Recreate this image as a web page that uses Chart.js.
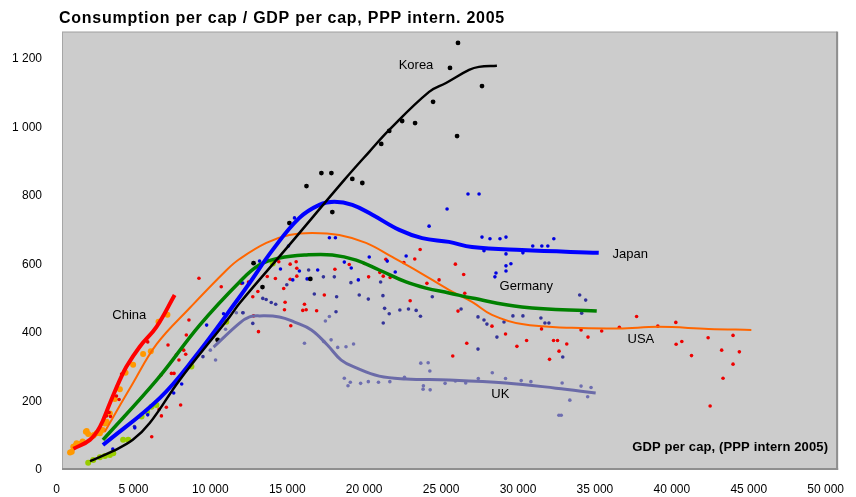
<!DOCTYPE html>
<html>
<head>
<meta charset="utf-8">
<script src="https://cdn.jsdelivr.net/npm/chart.js@4"></script>
<style>
  body { margin: 0; background: #fff; }
  canvas { display: block; }
</style>
</head>
<body>
<canvas id="chart" width="856" height="497"></canvas>
<script>
// axis ticks
const xTicks = [0, 5000, 10000, 15000, 20000, 25000, 30000, 35000, 40000, 45000, 50000];
const yTicks = [0, 200, 400, 600, 800, 1000, 1200];

// smoothed trend lines  [gdp per cap, consumption per cap]
const koreaLine = [[2180,26],[3660,55],[4960,88],[6060,137],[8010,263],[11250,447],[11900,487],[15000,650],[18710,847],[20330,929],[21630,993],[24220,1104],[25320,1130],[26820,1168],[27460,1177],[28630,1180]];
const japanLine = [[3020,73],[6710,210],[9000,330],[11900,505],[12550,546],[14040,642],[15790,736],[17090,774],[18060,783],[19230,774],[20530,745],[22280,701],[23770,677],[25510,666],[27010,651],[30250,642],[35250,634]];
const germanyLine = [[3020,88],[6520,263],[9310,423],[11900,549],[13200,599],[14490,619],[16240,628],[17930,628],[19480,613],[20980,584],[22720,549],[24020,531],[25510,517],[27010,502],[30250,476],[35120,464]];
const usaLine = [[3140,112],[4900,248],[6520,368],[8660,473],[11060,584],[11900,616],[13640,663],[15130,686],[16630,692],[18380,686],[20120,663],[21820,622],[23570,578],[25510,526],[27010,491],[28310,453],[30250,426],[33490,415],[36540,413],[39150,418],[42390,412],[45170,409]];
const chinaLine = [[1100,62],[2170,88],[2820,126],[3470,195],[4120,263],[4550,302],[5410,360],[6500,418],[7680,511]];
const ukLine = [[10210,359],[11900,429],[12550,447],[13200,450],[14490,447],[15470,432],[16570,409],[17610,365],[18510,321],[19490,298],[20980,274],[22720,266],[25510,263],[29220,254],[32460,239],[35050,225]];

// yearly observations
const koreaDots = [[26100,1247],[25580,1174],[27660,1121],[24480,1075],[23310,1013],[22470,1019],[21630,990],[21110,952],[26040,975],[17220,867],[17870,867],[16250,829],[19230,850],[19880,838],[17930,753],[15140,721],[12810,604],[13390,534],[16500,558],[10470,380]];
const japanDots = [[26750,806],[27470,806],[25390,762],[27660,680],[28180,675],[28830,675],[29220,680],[27790,640],[29220,631],[30320,634],[30960,654],[31550,654],[31940,654],[32330,675],[29540,602],[29220,596],[29220,581],[28570,575],[28500,564],[24220,712],[17740,678],[18130,678],[15470,736],[15080,654],[13200,610],[14560,587],[15790,581],[16980,584],[18710,607],[19160,590],[20330,622],[21500,610],[22730,625],[22020,578],[19620,555],[16290,558],[15360,555],[12100,546],[9760,423],[10860,456],[8140,251],[7620,225],[5930,161],[5090,123],[3660,61]];
const germanyDots = [[34010,511],[34400,496],[26300,470],[27400,447],[27790,438],[27980,426],[29090,432],[29670,450],[30320,450],[31490,444],[31750,429],[32010,429],[28630,388],[27400,353],[32910,330],[34140,458],[16390,584],[17350,564],[18060,564],[18210,506],[19140,547],[19680,511],[20270,499],[21220,509],[21070,549],[21330,472],[21630,456],[22320,467],[22880,470],[23380,466],[23660,449],[21240,429],[18170,462],[16760,514],[14970,541],[14250,484],[13960,489],[13630,498],[13410,501],[12110,459],[12760,428],[24430,506],[9520,331],[5070,127]];
const usaDots = [[14450,608],[15190,601],[15580,608],[15620,589],[15620,566],[15190,557],[14230,559],[13700,565],[14770,530],[14860,490],[14820,468],[16120,484],[16010,466],[16230,468],[16910,465],[15230,421],[13130,404],[12760,506],[13090,521],[17410,511],[18100,586],[19030,600],[20010,603],[20290,564],[21410,615],[21020,577],[21240,566],[21690,562],[22580,606],[23290,616],[23640,644],[22990,494],[24080,545],[24870,555],[12480,549],[12810,450],[25930,601],[26470,571],[26540,516],[26100,464],[26670,370],[25760,333],[28310,420],[29190,397],[29930,361],[30560,378],[31530,412],[32050,323],[32310,378],[32570,378],[33170,368],[32670,347],[34100,409],[34550,388],[35440,406],[36590,417],[37710,448],[39090,420],[40260,431],[40280,367],[40650,375],[41280,334],[42360,386],[43240,350],[43980,393],[44390,345],[43980,309],[43330,268],[42490,187],[9260,560],[10710,535],[8610,438],[8440,394],[7250,365],[7790,336],[8270,350],[8400,338],[7960,321],[7640,282],[7470,282],[6780,277],[8070,190],[7140,183],[6670,177],[6820,158],[6190,97],[5930,374],[4230,280],[3900,216],[4070,206],[3420,168],[3250,158],[3510,156],[12010,545]];
const ukDots = [[16120,370],[17370,375],[17850,380],[18280,358],[18820,360],[19310,368],[17480,435],[17740,448],[18710,268],[19100,256],[18950,246],[19770,253],[20270,258],[20930,256],[21670,258],[22620,271],[23680,312],[24160,313],[24270,289],[23850,246],[23830,236],[24290,234],[25260,253],[10000,350],[10340,321],[10990,411],[11690,459],[12140,459],[28330,284],[27420,267],[29190,267],[30210,261],[30840,258],[32870,254],[34100,245],[34750,241],[34530,214],[33370,204],[32660,160],[32810,160],[25930,260],[26600,254]];
const chinaDots = [[7210,453],[6630,433],[6130,347],[5630,339],[4980,307],[4490,284],[4120,236],[3790,207],[3260,141],[3150,136],[3000,117],[2610,107],[2390,100],[2430,102],[2820,107],[3470,165],[1960,114],[1910,112],[2060,105],[1630,78],[1310,78],[1700,83],[1260,73],[1090,68],[990,53],[880,51]];
const otherDots = [[2060,21],[2390,29],[2820,37],[3150,41],[3470,44],[3690,49],[4330,88],[4660,88],[5530,156],[5890,170],[6170,185],[6500,190],[8770,302],[11040,433],[14060,603]];

// country names placed in data space
const countryLabels = ['Korea', 'China', 'Japan', 'Germany', 'USA', 'UK'];
const labelX = [23370, 4730, 37300, 30540, 37990, 28850];
const labelY = [1180, 452, 630, 537, 381, 221];

const FONT = '"Liberation Sans", Arial, sans-serif';
const fmt = v => String(v).replace(/\B(?=(\d{3})+(?!\d))/g, ' ');
const pts = arr => arr.map(p => ({x: p[0], y: p[1]}));

function line(data, color, width) {
  return {
    data: pts(data), showLine: true, borderColor: color, borderWidth: width,
    pointRadius: 0, tension: 0.4, fill: false, order: 0
  };
}
function dots(data, color, r) {
  return {
    data: pts(data), showLine: false, pointRadius: r, pointBorderWidth: 0,
    pointBackgroundColor: color, backgroundColor: color, order: 1
  };
}

// bold texts in the original are rendered a bit wider, stretch them to fit
function wideText(ctx, s, x, y, width) {
  ctx.letterSpacing = '0px';
  const w = ctx.measureText(s).width;
  ctx.letterSpacing = ((width - w) / s.length) + 'px';
  ctx.fillText(s, x, y);
  ctx.letterSpacing = '0px';
}

const framePlugin = {
  id: 'frame',
  beforeDraw(chart) {
    const {ctx, chartArea} = chart;
    ctx.save();
    ctx.fillStyle = '#fff';
    ctx.fillRect(0, 0, chart.width, chart.height);
    // plot box
    const l = chartArea.left + 5.5, t = chartArea.top, r = chartArea.right + 11.5, b = chartArea.bottom - 1;
    ctx.fillStyle = '#cccccc';
    ctx.fillRect(l, t, r - l, b - t);
    ctx.strokeStyle = '#a6a6a6';
    ctx.lineWidth = 1;
    ctx.strokeRect(l + 0.5, t + 0.5, r - l - 1, b - t - 1);
    ctx.fillStyle = '#8f8f8f';
    ctx.fillRect(r - 1, t, 2, b - t + 1);
    ctx.fillRect(l, b - 1, r - l + 1, 2);
    ctx.restore();
  },
  afterDatasetsDraw(chart) {
    const {ctx, scales: {x, y}, chartArea} = chart;
    ctx.save();
    ctx.fillStyle = '#000';
    ctx.textBaseline = 'middle';
    ctx.textAlign = 'center';
    ctx.font = '13px ' + FONT;
    countryLabels.forEach((s, i) => {
      ctx.fillText(s, x.getPixelForValue(labelX[i]), y.getPixelForValue(labelY[i]));
    });
    ctx.textAlign = 'left';
    ctx.font = 'bold 13px ' + FONT;
    wideText(ctx, 'GDP per cap, (PPP intern 2005)', chartArea.right - 193.5, chartArea.bottom - 23, 196);
    ctx.font = 'bold 16px ' + FONT;
    wideText(ctx, 'Consumption per cap / GDP per cap, PPP intern. 2005', 59, 18.5, 446);
    ctx.restore();
  }
};

new Chart(document.getElementById('chart').getContext('2d'), {
  type: 'scatter',
  data: {
    datasets: [
      line(koreaLine, '#000000', 2.5),
      line(japanLine, '#0000ff', 4),
      line(germanyLine, '#008000', 3.5),
      line(usaLine, '#ff6600', 2),
      line(chinaLine, '#ff0000', 4),
      line(ukLine, '#6b6ba8', 3),
      dots(koreaDots, '#000000', 2.4),
      dots(japanDots, '#0000e0', 1.8),
      dots(germanyDots, '#333399', 1.8),
      dots(usaDots, '#ee0000', 1.8),
      dots(ukDots, '#6e6eb0', 1.8),
      dots(chinaDots, '#ff9900', 3),
      dots(otherDots, '#99cc00', 3)
    ]
  },
  options: {
    responsive: false,
    animation: false,
    devicePixelRatio: 1,
    layout: { padding: { left: 0, right: 28.4, top: 31.6, bottom: 0 } },
    plugins: { legend: { display: false }, tooltip: { enabled: false }, title: { display: false } },
    scales: {
      x: {
        type: 'linear', min: xTicks[0], max: xTicks[xTicks.length - 1],
        afterFit(s) { s.height = 27; },
        grid: { display: false, drawTicks: false },
        border: { display: false },
        ticks: {
          stepSize: 5000, padding: 12, maxRotation: 0, autoSkip: false,
          color: '#000', font: { family: FONT, size: 12 }, callback: v => fmt(v)
        }
      },
      y: {
        min: yTicks[0], max: 1280,
        afterFit(s) { s.width = 56.5; },
        grid: { display: false, drawTicks: false },
        border: { display: false },
        ticks: {
          stepSize: 200, includeBounds: false, padding: 14.5,
          color: '#000', font: { family: FONT, size: 12 }, callback: v => fmt(v)
        }
      }
    }
  },
  plugins: [framePlugin]
});
</script>
</body>
</html>
